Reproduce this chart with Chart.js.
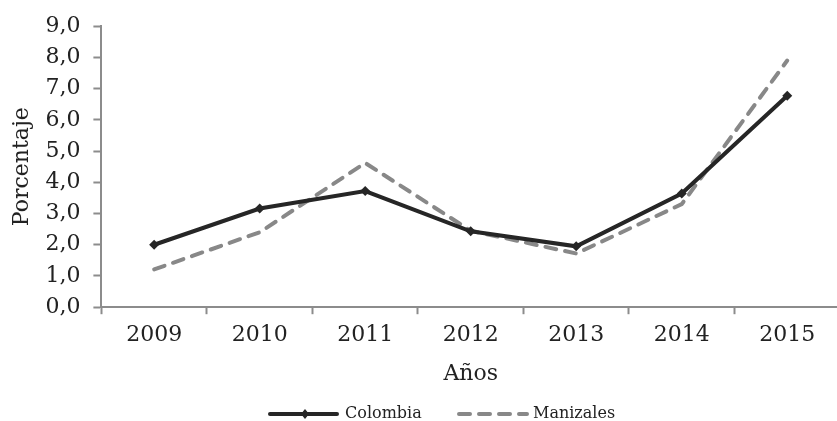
<!DOCTYPE html>
<html>
<head>
<meta charset="utf-8">
<script src="https://cdn.jsdelivr.net/npm/chart.js@4/dist/chart.umd.min.js"></script>
<style>
  html, body { margin: 0; padding: 0; background: #fff; overflow: hidden; }
  #wrap { width: 845px; height: 421px; }
</style>
</head>
<body>
<div id="wrap"><canvas id="chart" width="845" height="421"></canvas></div>
<script>
const years = ['2009', '2010', '2011', '2012', '2013', '2014', '2015'];
const colombia = [2.0, 3.16, 3.72, 2.43, 1.95, 3.64, 6.77];
const manizales = [1.21, 2.4, 4.62, 2.45, 1.72, 3.3, 7.9];
const seriesNames = ['Colombia', 'Manizales'];

const serif = "'DejaVu Serif', 'Liberation Serif', serif";

// legend drawn under the axis title, like the original
const bottomLegend = {
    id: 'bottomLegend',
    afterDraw(chart) {
        const ctx = chart.ctx;
        const y = 414;
        ctx.save();
        ctx.lineWidth = 4;
        ctx.lineCap = 'round';
        // Colombia
        ctx.strokeStyle = '#262626';
        ctx.beginPath();
        ctx.moveTo(270, y);
        ctx.lineTo(337, y);
        ctx.stroke();
        ctx.fillStyle = '#262626';
        ctx.beginPath();
        ctx.moveTo(305, y - 5);
        ctx.lineTo(309, y);
        ctx.lineTo(305, y + 5);
        ctx.lineTo(301, y);
        ctx.closePath();
        ctx.fill();
        // Manizales
        ctx.strokeStyle = '#888888';
        ctx.setLineDash([11, 9]);
        ctx.beginPath();
        ctx.moveTo(459, y);
        ctx.lineTo(527, y);
        ctx.stroke();
        ctx.setLineDash([]);
        ctx.fillStyle = '#222';
        ctx.font = "16px " + serif;
        ctx.textBaseline = 'middle';
        ctx.fillText(seriesNames[0], 345, y);
        ctx.fillText(seriesNames[1], 533, y);
        ctx.restore();
    }
};

new Chart(document.getElementById('chart'), {
    type: 'line',
    data: {
        labels: years,
        datasets: [
            {
                label: seriesNames[0],
                data: colombia,
                borderColor: '#262626',
                backgroundColor: '#262626',
                borderWidth: 4,
                pointStyle: 'rectRot',
                pointRadius: 5,
                pointBorderWidth: 0,
                tension: 0
            },
            {
                label: seriesNames[1],
                data: manizales,
                borderColor: '#888888',
                borderWidth: 4,
                borderDash: [11, 9],
                borderCapStyle: 'round',
                pointRadius: 0,
                tension: 0
            }
        ]
    },
    options: {
        responsive: false,
        animation: false,
        layout: {padding: {top: 14, right: 1, bottom: 34, left: 9}},
        plugins: {
            legend: {display: false},
            tooltip: {enabled: false}
        },
        scales: {
            x: {
                offset: true,
                grid: {
                    offset: true,
                    drawOnChartArea: false,
                    tickLength: 7,
                    tickColor: '#8c8c8c',
                    tickWidth: 2
                },
                border: {color: '#8c8c8c', width: 2},
                ticks: {color: '#222', font: {family: serif, size: 22}, padding: 8, maxRotation: 0},
                title: {display: true, text: 'Años', color: '#222', font: {family: serif, size: 22}, padding: {top: 4, bottom: 0}}
            },
            y: {
                min: 0,
                max: 9,
                grid: {
                    drawOnChartArea: false,
                    tickLength: 8,
                    tickColor: '#8c8c8c',
                    tickWidth: 2
                },
                border: {color: '#8c8c8c', width: 2},
                ticks: {
                    stepSize: 1,
                    color: '#222',
                    font: {family: serif, size: 22},
                    padding: 13,
                    callback: v => v.toFixed(1).replace('.', ',')
                },
                title: {display: true, text: 'Porcentaje', color: '#222', font: {family: serif, size: 22}, padding: {top: 0, bottom: -3}}
            }
        }
    },
    plugins: [bottomLegend]
});
</script>
</body>
</html>
